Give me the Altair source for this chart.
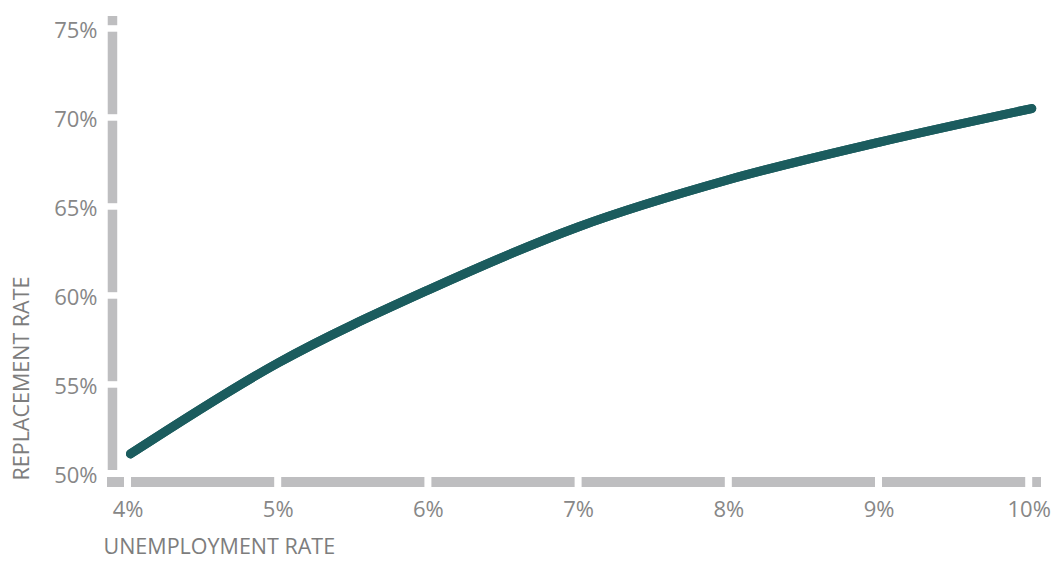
import altair as alt
import pandas as pd

# ---- data ----
UNEMPLOYMENT = [4.02, 5, 6, 7, 8, 9, 10.02]
REPLACEMENT = [51.1, 56.2, 60.3, 63.85, 66.5, 68.6, 70.5]
X_TICKS = [4, 5, 6, 7, 8, 9, 10]
Y_TICKS = [50, 55, 60, 65, 70, 75]
X_DOMAIN = [3.8635, 10.0818]
Y_DOMAIN = [49.52, 75.70]
Y_BAR_X = 3.90
Y_BAR_START = 50.2

GRAY = "#bebec0"
LABEL = "#878787"
TITLE = "#7d7d7d"
LINE = "#1b5c5e"
FONT = "Open Sans"

curve = pd.DataFrame({"u": UNEMPLOYMENT, "r": REPLACEMENT})
xt = pd.DataFrame({"t": X_TICKS})
yt = pd.DataFrame({"t": Y_TICKS[1:]})
one = pd.DataFrame({"k": [0]})

x_scale = alt.Scale(domain=X_DOMAIN, nice=False, zero=False)
y_scale = alt.Scale(domain=Y_DOMAIN, nice=False, zero=False)

x_axis = alt.Axis(
    values=X_TICKS, labelExpr="datum.value + '%'", domain=False, ticks=False,
    tickSize=0, grid=False, labelFont=FONT, labelFontSize=22, labelColor=LABEL,
    labelPadding=17, title="UNEMPLOYMENT RATE", titleFont=FONT, titleFontSize=21.5,
    titleFontWeight="normal", titleColor=TITLE, titleAnchor="start",
    titleAlign="left", titleBaseline="middle", titleX=-4, titleY=65,
)
y_axis = alt.Axis(
    values=Y_TICKS, labelExpr="datum.value + '%'", domain=False, ticks=False,
    tickSize=0, grid=False, labelFont=FONT, labelFontSize=22, labelColor=LABEL,
    labelPadding=10, labelOffset=2, title="REPLACEMENT RATE", titleFont=FONT,
    titleFontSize=21.5, titleFontWeight="normal", titleColor=TITLE,
    titleAngle=270, titleAlign="left", titleBaseline="middle",
    titleX=-85, titleY=464,
)

xbar = alt.Chart(one).mark_rule(color=GRAY, strokeWidth=10, strokeCap="butt").encode(
    x=alt.datum(X_DOMAIN[0]), x2=alt.datum(X_DOMAIN[1]), y=alt.datum(Y_DOMAIN[0])
)
ybar = alt.Chart(one).mark_rule(color=GRAY, strokeWidth=9.5, strokeCap="butt").encode(
    x=alt.datum(Y_BAR_X), y=alt.datum(Y_BAR_START), y2=alt.datum(Y_DOMAIN[1])
)
xgaps = alt.Chart(xt).mark_tick(orient="vertical", color="white", thickness=7,
                                size=16, opacity=1).encode(
    x=alt.X("t:Q"), y=alt.datum(Y_DOMAIN[0])
)
ygaps = alt.Chart(yt).mark_tick(orient="horizontal", color="white", thickness=6.5,
                                size=16, opacity=1).encode(
    y=alt.Y("t:Q"), x=alt.datum(Y_BAR_X)
)
line = alt.Chart(curve).mark_line(color=LINE, strokeWidth=9, strokeCap="round",
                                  interpolate="monotone").encode(
    x=alt.X("u:Q", scale=x_scale, axis=x_axis),
    y=alt.Y("r:Q", scale=y_scale, axis=y_axis),
)

chart = alt.layer(line, xbar, ybar, xgaps, ygaps, line).properties(
    width=934, height=466,
    autosize=alt.AutoSizeParams(type="none"),
    padding={"left": 107, "top": 16, "right": 14, "bottom": 79},
    background="white",
).configure_view(stroke=None)

chart.save("out.html", embed_options={"renderer": "svg", "actions": False})
